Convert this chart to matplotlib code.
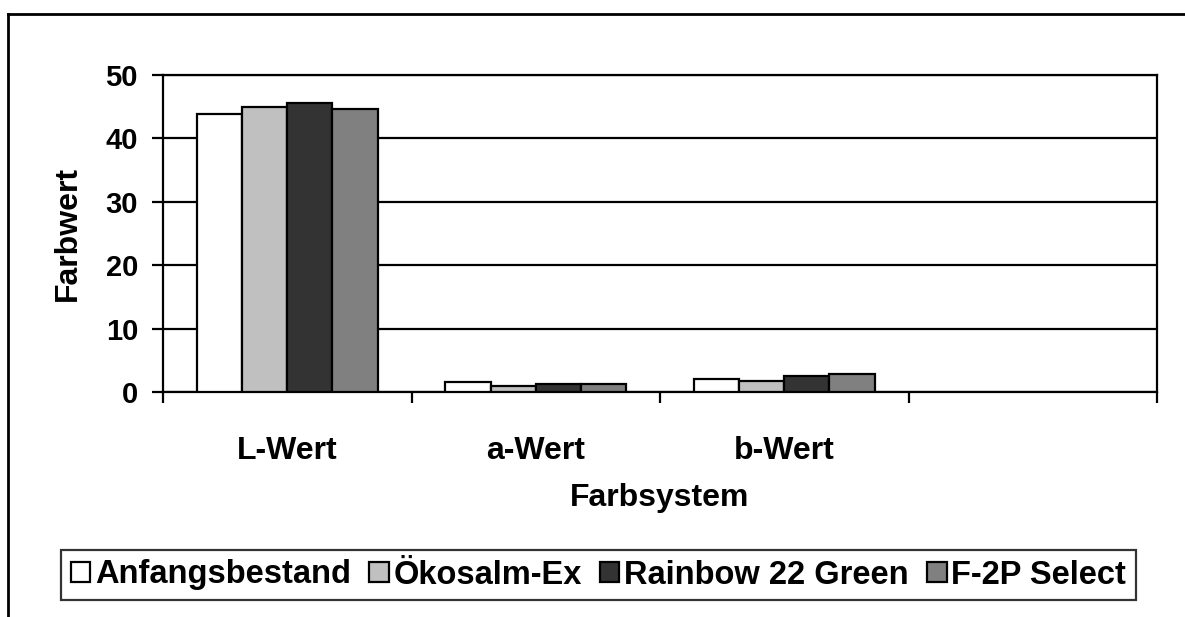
import numpy as np
import matplotlib
matplotlib.use("Agg")
import matplotlib.pyplot as plt
from matplotlib.lines import Line2D

plt.rcParams['font.family'] = ['Liberation Sans', 'DejaVu Sans']
plt.rcParams['font.weight'] = 'bold'

# Farbmessung (L*a*b*) der Filets
categories = ["L-Wert", "a-Wert", "b-Wert", ""]
series = ["Anfangsbestand", "Ökosalm-Ex", "Rainbow 22 Green", "F-2P Select"]
anfang = [43.9, 1.5, 2.0]
oekosalm = [44.9, 0.9, 1.75]
rainbow = [45.6, 1.3, 2.5]
f2p = [44.7, 1.2, 2.8]
colors = ["#FFFFFF", "#C0C0C0", "#333333", "#808080"]

W, H = 1185, 617
fig = plt.figure(figsize=(W / 100, H / 100), dpi=100)
ax = fig.add_axes([163 / W, 1 - 392 / H, (1157 - 163) / W, (392 - 75) / H])

bw = 0.182
for i, (name, vals) in enumerate(zip(series, [anfang, oekosalm, rainbow, f2p])):
    x = np.arange(len(vals)) + 0.5 + (i - 1.5) * bw
    ax.bar(x, vals, width=bw, color=colors[i], edgecolor="black",
           linewidth=1.6, label=name, zorder=3)

ax.set_ylim(0, 50)
ax.set_xlim(0, len(categories))
ax.set_yticks(range(0, 51, 10))
ax.yaxis.grid(True, color="black", linewidth=1.6, zorder=0)
ax.set_axisbelow(True)

# Kategoriegrenzen als Ticks, Beschriftung in der Mitte
ax.set_xticks(range(len(categories) + 1))
ax.set_xticklabels([])
ax.set_xticks(np.arange(len(categories)) + 0.5, minor=True)
ax.set_xticklabels(categories, minor=True, fontsize=23, fontweight="bold")
ax.tick_params(axis="x", which="minor", length=0, pad=32)
ax.tick_params(axis="x", which="major", direction="out", length=8, width=1.6)
ax.tick_params(axis="y", direction="out", length=8, width=1.6, pad=10,
               labelsize=21)
for lab in ax.get_yticklabels():
    lab.set_fontweight("bold")
for sp in ax.spines.values():
    sp.set_linewidth(1.6)

ax.set_ylabel("Farbwert", fontsize=23, fontweight="bold")
ax.yaxis.set_label_coords(-0.0805, 0.5)
ax.set_xlabel("Farbsystem", fontsize=23, fontweight="bold")
ax.xaxis.set_label_coords(0.5, -0.287)

leg = fig.legend(loc="center", bbox_to_anchor=((61 + 1136) / 2 / W, 1 - 575 / H),
                 ncol=4, fontsize=23.5, frameon=True, fancybox=False,
                 edgecolor="black", handlelength=0.6, handleheight=0.55,
                 handletextpad=0.15, columnspacing=0.55, borderpad=0.3,
                 borderaxespad=0)
leg.get_frame().set_linewidth(1.6)
for t in leg.get_texts():
    t.set_fontweight("bold")

# Rahmen um das Diagramm
x0, y0 = 8 / W, 1 - 14 / H
fig.add_artist(Line2D([x0, 1.01], [y0, y0], color="black", linewidth=2))
fig.add_artist(Line2D([x0, x0], [y0, -0.01], color="black", linewidth=2))

fig.savefig("out.png", dpi=100)
